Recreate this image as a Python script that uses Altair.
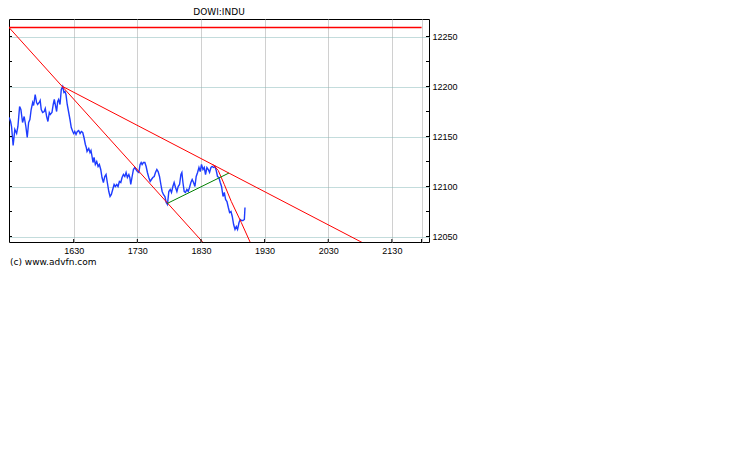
import pandas as pd
import altair as alt

# intraday DOWI:INDU, minutes since midnight -> index level
price_minutes = [
    929.2, 930.5, 931.4, 932.9, 934.5, 936.2, 937.4, 939.0, 940.2, 941.8,
    943.3, 944.9, 946.2, 947.5, 948.7, 949.9, 951.3, 952.2, 953.7, 955.0,
    956.0, 957.5, 958.4, 959.4, 960.7, 962.2, 963.2, 964.5, 965.7, 967.0,
    967.9, 969.5, 970.7, 971.7, 973.0, 973.9, 974.9, 975.8, 977.1, 978.3,
    979.6, 980.8, 981.8, 982.7, 983.9, 985.3, 986.5, 987.7, 989.1, 990.0,
    991.0, 992.2, 993.4, 994.7, 996.0, 997.2, 998.5, 999.7, 1001.0, 1001.9,
    1002.6, 1004.2, 1005.4, 1006.3, 1007.3, 1008.2, 1009.2, 1010.4, 1011.7, 1013.0,
    1014.2, 1015.5, 1016.7, 1018.0, 1019.3, 1020.5, 1021.7, 1023.1, 1024.3, 1025.5,
    1026.8, 1028.1, 1029.3, 1030.6, 1031.8, 1033.1, 1034.4, 1035.6, 1036.9, 1038.2,
    1039.4, 1040.6, 1042.0, 1042.9, 1043.8, 1045.1, 1046.3, 1047.6, 1048.8, 1050.1,
    1051.4, 1052.6, 1053.6, 1054.5, 1055.7, 1057.1, 1058.3, 1059.5, 1060.8, 1062.1,
    1063.3, 1064.6, 1065.9, 1067.1, 1068.4, 1069.6, 1070.9, 1072.2, 1073.4, 1074.6,
    1076.0, 1077.2, 1078.4, 1079.7, 1081.0, 1082.2, 1083.5, 1084.7, 1086.0, 1087.3,
    1088.5, 1089.8, 1091.1, 1092.0, 1093.0, 1094.2, 1095.4, 1096.7, 1098.0, 1099.2,
    1100.5, 1101.7, 1103.0, 1104.3, 1105.5, 1106.8, 1108.1, 1109.3, 1110.5, 1111.9,
    1113.1, 1114.3, 1115.6, 1116.9, 1118.1, 1119.4, 1120.6, 1121.9, 1123.2, 1124.4,
    1125.6, 1126.9, 1128.2, 1129.4, 1130.8, 1132.0, 1133.2, 1134.5, 1135.8, 1137.0,
    1138.3, 1139.5, 1140.8, 1142.1, 1143.3, 1144.5, 1145.9, 1147.1, 1148.3, 1149.6,
    1150.9, 1151.5,
]
price_values = [
    12169, 12165, 12160, 12141, 12157, 12153, 12160, 12180, 12177, 12164,
    12170, 12160, 12149, 12164, 12167, 12177, 12184, 12181, 12192, 12184,
    12182, 12184, 12186, 12177, 12174, 12175, 12178, 12170, 12165, 12174,
    12172, 12174, 12182, 12187, 12180, 12175, 12185, 12187, 12182, 12197,
    12200, 12194, 12195, 12192, 12182, 12174, 12167, 12159, 12155, 12153,
    12155, 12152, 12155, 12156, 12153, 12155, 12154, 12149, 12142, 12139,
    12135, 12138, 12134, 12136, 12130, 12124, 12129, 12122, 12125, 12120,
    12122, 12117, 12109, 12104, 12110, 12112, 12104, 12095, 12090, 12092,
    12097, 12102, 12100, 12102, 12100, 12105, 12104, 12109, 12112, 12110,
    12114, 12109, 12112, 12109, 12102, 12110, 12117, 12119, 12117, 12115,
    12114, 12122, 12124, 12122, 12124, 12124, 12120, 12114, 12109, 12105,
    12107, 12109, 12110, 12114, 12117, 12115, 12110, 12102, 12095, 12092,
    12090, 12084, 12082, 12095, 12097, 12094, 12100, 12104, 12099, 12095,
    12100, 12102, 12112, 12114, 12104, 12095, 12094, 12097, 12095, 12099,
    12104, 12107, 12104, 12100, 12110, 12114, 12119, 12115, 12122, 12117,
    12119, 12112, 12119, 12117, 12114, 12119, 12120, 12119, 12120, 12116,
    12110, 12109, 12104, 12100, 12090, 12094, 12087, 12085, 12079, 12074,
    12075, 12070, 12062, 12057, 12060, 12057, 12064, 12067, 12066, 12066,
    12067, 12079,
]

# drawn studies: a flat level and three falling trend lines
level_start, level_end, level_value = 929, 1318, 12259
red_line_ids = ["a", "a", "b", "b", "c", "c", "c", "c", "c", "c"]
red_line_minutes = [929, 1112, 979.6, 1262,
                    1121.3, 1126.3, 1132.0, 1138.6, 1148.0, 1156.5]
red_line_values = [12259, 12044, 12200, 12044,
                   12122, 12116, 12102, 12085, 12064, 12044]
green_minutes = [1078.1, 1136.4]
green_values = [12083, 12113.5]

x_ticks = [990, 1050, 1110, 1170, 1230, 1290, 1318]
y_ticks = [12050, 12100, 12150, 12200, 12250]
y_minor = [12050, 12075, 12100, 12125, 12150, 12175, 12200, 12225, 12250]

W, H = 420, 223
FONT = "DejaVu Sans"
LABEL_FONT = "Liberation Sans"

price = pd.DataFrame({"m": price_minutes, "v": price_values})
reds = pd.DataFrame({"id": red_line_ids, "m": red_line_minutes, "v": red_line_values})
greens = pd.DataFrame({"m": green_minutes, "v": green_values})
level = pd.DataFrame({"m": [level_start], "m2": [level_end], "v": [level_value]})

x_scale = alt.Scale(domain=[929, 1325], nice=False, zero=False)
y_scale = alt.Scale(domain=[12044.5, 12267.5], nice=False, zero=False)

label_expr = ("datum.value == 1318 ? '' : "
              "format(floor(datum.value / 60), '02d') + format(datum.value % 60, '02d')")

x_axis = alt.Axis(
    values=x_ticks, labelExpr=label_expr, title=None, grid=True,
    gridColor="#a0a0a0", gridDash=[1, 1], domain=False, tickSize=0,
    labelPadding=4, labelFont=LABEL_FONT, labelFontSize=9, labelColor="black")
y_axis = alt.Axis(
    orient="right", values=y_ticks, format="d", title=None, grid=True,
    gridColor="#86b8b8", gridDash=[1, 1], domain=False, tickSize=0,
    labelPadding=3, labelFont=LABEL_FONT, labelFontSize=9, labelColor="black")


def xq(field="m"):
    return alt.X(f"{field}:Q", scale=x_scale, axis=x_axis)


def yq(field="v"):
    return alt.Y(f"{field}:Q", scale=y_scale, axis=y_axis)


price_line = alt.Chart(price).mark_line(
    color="#1e3cff", strokeWidth=1.4, clip=True
).encode(x=xq(), y=yq(), order="m:Q")

level_line = alt.Chart(level).mark_rule(
    color="#ff0000", stroke="#ff0000", strokeWidth=1.3
).encode(x=xq(), x2="m2:Q", y=yq())

red_lines = alt.Chart(reds).mark_line(
    stroke="#ff0000", strokeWidth=1, clip=True
).encode(x=xq(), y=yq(), detail="id:N", order="m:Q")

green_line = alt.Chart(greens).mark_line(
    stroke="#008000", strokeWidth=1, clip=True
).encode(x=xq(), y=yq())

# small inward ticks on the frame
minor_df = pd.DataFrame({"v": y_minor})
left_ticks = alt.Chart(minor_df).mark_rule(color="black").encode(
    y=yq(), x=alt.value(0), x2=alt.value(3))
right_ticks = alt.Chart(minor_df).mark_rule(color="black").encode(
    y=yq(), x=alt.value(W - 3), x2=alt.value(W))
bottom_ticks = alt.Chart(pd.DataFrame({"m": x_ticks})).mark_rule(color="black").encode(
    x=xq(), y=alt.value(H - 3), y2=alt.value(H))

credit = alt.Chart(pd.DataFrame({"t": ["(c) www.advfn.com"]})).mark_text(
    align="left", baseline="middle", font=FONT, fontSize=9, color="black"
).encode(text="t:N", x=alt.value(1), y=alt.value(H + 20))

chart = alt.layer(
    price_line, red_lines, green_line,
    left_ticks, right_ticks, bottom_ticks, level_line, credit
).properties(
    width=W, height=H,
    background="white",
    padding={"left": 0, "top": 0, "right": 5, "bottom": 5},
    title=alt.TitleParams("DOWI:INDU", font=FONT, fontSize=9, fontWeight="normal",
                          color="black", offset=2, anchor="middle"),
).configure_view(
    stroke="black", strokeWidth=1
)

chart.save("out.html", embed_options={"renderer": "svg", "actions": False})
